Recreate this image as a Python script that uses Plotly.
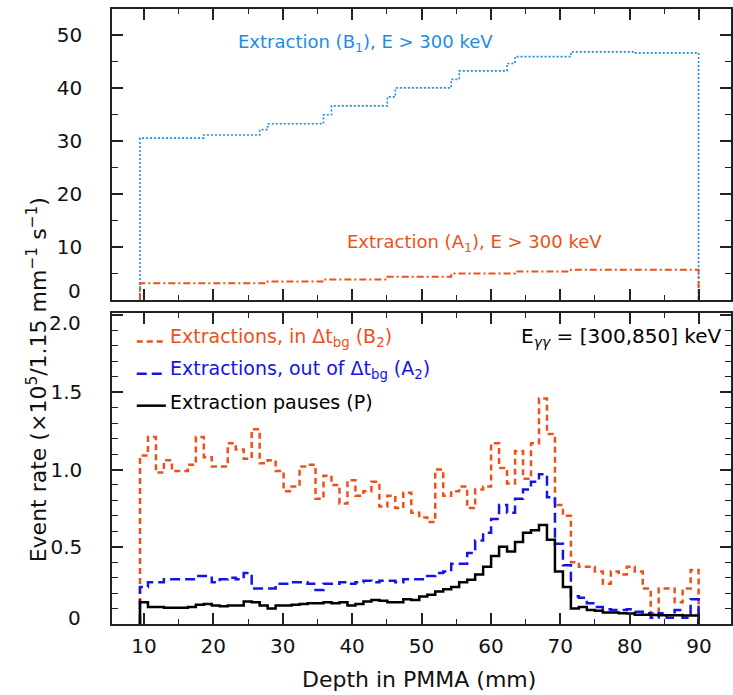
import plotly.graph_objects as go

# Histogram binning along depth (mm): 70 bins of 1.15 mm
BIN_START = 9.43
BIN_WIDTH = 1.15

# Upper panel: extraction rates, E > 300 keV
b1_extraction = ([30.6] * 8 + [31.2] * 7 + [32.2] + [33.3] * 7 + [35.0] + [36.7] * 7 + [38.4]
                 + [40.1] * 7 + [41.7] + [43.3] * 6 + [44.7] + [46.0] * 7 + [46.9] * 8 + [46.7] * 8)
a1_extraction = ([3.15] * 16 + [3.5] * 7 + [3.9] * 8 + [4.4] * 8 + [5.0] * 8 + [5.4] * 7 + [5.7] * 16)

# Lower panel: E_gg = [300,850] keV
b2_in_bg = [1.09, 1.21, 0.98, 1.06, 0.99, 0.99, 1.03, 1.21, 1.08, 1.02,
            1.02, 1.17, 1.13, 1.07, 1.26, 1.04, 1.06, 0.99, 0.86, 0.89,
            1.02, 1.03, 0.81, 0.96, 0.90, 0.78, 0.93, 0.83, 0.86, 0.92,
            0.76, 0.83, 0.75, 0.85, 0.72, 0.69, 0.66, 1.00, 0.83, 0.86,
            0.89, 0.75, 0.87, 0.89, 1.17, 1.01, 0.91, 1.12, 0.94, 1.17,
            1.46, 1.23, 0.77, 0.70, 0.40, 0.37, 0.37, 0.34, 0.26, 0.34,
            0.32, 0.37, 0.34, 0.23, 0.07, 0.23, 0.23, 0.14, 0.23, 0.35]
a2_out_bg = [0.24, 0.27, 0.27, 0.29, 0.29, 0.29, 0.29, 0.31, 0.31, 0.27,
             0.29, 0.30, 0.29, 0.33, 0.23, 0.23, 0.23, 0.26, 0.26, 0.27,
             0.27, 0.26, 0.22, 0.26, 0.26, 0.27, 0.26, 0.27, 0.28, 0.27,
             0.28, 0.28, 0.27, 0.29, 0.29, 0.29, 0.31, 0.33, 0.34, 0.39,
             0.39, 0.46, 0.54, 0.59, 0.68, 0.77, 0.72, 0.81, 0.87, 0.92,
             0.97, 0.82, 0.52, 0.38, 0.18, 0.17, 0.135, 0.11, 0.095, 0.09,
             0.09, 0.095, 0.08, 0.07, 0.04, 0.07, 0.04, 0.09, 0.04, 0.16]
p_pauses = [0.14, 0.11, 0.11, 0.105, 0.105, 0.105, 0.11, 0.125, 0.13, 0.12,
            0.115, 0.12, 0.12, 0.145, 0.14, 0.12, 0.10, 0.12, 0.12, 0.125,
            0.13, 0.135, 0.135, 0.14, 0.135, 0.14, 0.12, 0.13, 0.145, 0.155,
            0.15, 0.14, 0.14, 0.16, 0.156, 0.178, 0.19, 0.21, 0.225, 0.24,
            0.27, 0.286, 0.32, 0.37, 0.44, 0.50, 0.47, 0.53, 0.59, 0.606,
            0.64, 0.545, 0.34, 0.24, 0.10, 0.11, 0.09, 0.085, 0.075, 0.075,
            0.07, 0.068, 0.06, 0.06, 0.058, 0.057, 0.056, 0.056, 0.055, 0.055]

x_ticks = [10, 20, 30, 40, 50, 60, 70, 80, 90]
top_ticks = [0, 10, 20, 30, 40, 50]
top_tick_text = ["", "10", "20", "30", "40", "50"]          # "0" is placed separately
bottom_ticks = [0, 0.5, 1.0, 1.5, 2.0]
bottom_tick_text = ["", "0.5", "1.0", "1.5", ""]            # end labels placed separately

ORANGE = "#ee5019"
LIGHT_BLUE = "#1c8ce6"
BLUE = "#1414e6"
BLACK = "#000000"
FONT = "DejaVu Sans"
TICK_SIZE = 20
TICK_FONT = dict(family=FONT, size=TICK_SIZE, color="#111")

n_bins = len(b2_in_bg)
edges = [BIN_START + BIN_WIDTH * i for i in range(n_bins + 1)]


def histogram_outline(values):
    """Step outline that rises from zero at the first edge and drops back at the last."""
    xs = [edges[0]] + edges[:n_bins] + [edges[-1], edges[-1]]
    ys = [0] + list(values) + [values[-1], 0]
    return xs, ys


fig = go.Figure()


def add_hist(values, color, dash, width, xa, ya):
    xs, ys = histogram_outline(values)
    fig.add_trace(go.Scatter(x=xs, y=ys, mode="lines", line_shape="hv",
                             line=dict(color=color, dash=dash, width=width),
                             xaxis=xa, yaxis=ya, showlegend=False, hoverinfo="skip"))


add_hist(b1_extraction, LIGHT_BLUE, "2px,2px", 1.6, "x", "y")
add_hist(a1_extraction, ORANGE, "7px,3px,2px,3px", 2, "x", "y")
add_hist(b2_in_bg, ORANGE, "6px,4px", 2.5, "x2", "y2")
add_hist(a2_out_bg, BLUE, "10px,5px", 2.5, "x2", "y2")
add_hist(p_pauses, BLACK, "solid", 2.5, "x2", "y2")

axis_common = dict(showline=True, linecolor="#222", linewidth=1.5, mirror="ticks",
                   ticks="inside", ticklen=11, tickwidth=1.5, tickcolor="#222",
                   showgrid=False, zeroline=False, tickfont=TICK_FONT)

fig.update_layout(
    width=733, height=695,
    margin=dict(l=112, r=0, t=9, b=71),
    paper_bgcolor="white", plot_bgcolor="white",
    xaxis=dict(domain=[0, 1], anchor="y", range=[5.4, 94.6], tickvals=x_ticks,
               showticklabels=False,
               minor=dict(ticks="inside", ticklen=5, dtick=5, tickcolor="#222", tickwidth=1.2),
               **axis_common),
    yaxis=dict(domain=[0.5268, 1], anchor="x", range=[0, 55], tickvals=top_ticks,
               ticktext=top_tick_text, ticklabelstandoff=24,
               minor=dict(ticks="inside", ticklen=6, dtick=5, tickcolor="#222", tickwidth=1.2),
               **axis_common),
    xaxis2=dict(domain=[0, 1], anchor="y2", range=[5.4, 94.6], tickvals=x_ticks,
                matches="x", ticklabelstandoff=3,
                minor=dict(ticks="inside", ticklen=5, dtick=5, tickcolor="#222", tickwidth=1.2),
                **axis_common),
    yaxis2=dict(domain=[0, 0.5057], anchor="x2", range=[0, 2.013], tickvals=bottom_ticks,
                ticktext=bottom_tick_text, ticklabelstandoff=24,
                minor=dict(ticks="inside", ticklen=6, dtick=0.1, tickcolor="#222", tickwidth=1.2),
                **axis_common),
)


def text(label, x, y, xref, yref, color, size=17, xanchor="center", **kw):
    return dict(text=label, x=x, y=y, xref=xref, yref=yref, xanchor=xanchor,
                yanchor="middle", showarrow=False,
                font=dict(family=FONT, size=size, color=color), **kw)


annotations = [
    text("Extraction (B<sub>1</sub>), E > 300 keV", 0.41, 0.883, "x domain", "y domain",
         LIGHT_BLUE, size=18),
    text("Extraction (A<sub>1</sub>), E > 300 keV", 0.586, 0.196, "x domain", "y domain",
         ORANGE, size=18),
    text("Extractions, in Δt<sub>bg</sub> (B<sub>2</sub>)", 0.09, 0.92, "x2 domain", "y2 domain",
         ORANGE, size=19, xanchor="left"),
    text("Extractions, out of Δt<sub>bg</sub> (A<sub>2</sub>)", 0.09, 0.817, "x2 domain", "y2 domain",
         BLUE, size=19, xanchor="left"),
    text("Extraction pauses (P)", 0.09, 0.714, "x2 domain", "y2 domain", BLACK, size=19,
         xanchor="left"),
    text("E<sub><i>γγ</i></sub> = [300,850] keV", 0.988, 0.923, "x2 domain", "y2 domain",
         BLACK, size=20, xanchor="right"),
    text("Depth in PMMA (mm)", 0.496, -0.091, "paper", "paper", "#111", size=22),
    text("Event rate (×10<sup>5</sup>/1.15 mm<sup>−1</sup> s<sup>−1</sup>)", -0.122, 0.397,
         "paper", "paper", "#111", size=22, textangle=-90),
    # end-of-range tick labels, nudged inside their panels
    text("0", 0, 0, "x domain", "y", "#111", size=TICK_SIZE, xanchor="right", xshift=-29, yshift=9),
    text("0", 0, 0, "x2 domain", "y2", "#111", size=TICK_SIZE, xanchor="right", xshift=-29, yshift=6),
    text("2.0", 0, 2.0, "x2 domain", "y2", "#111", size=TICK_SIZE, xanchor="right", xshift=-29,
         yshift=-8),
]
fig.update_layout(annotations=annotations)

# Legend line samples beside the lower-panel labels
for yfrac, color, dash in [(0.92, ORANGE, "6px,4px"), (0.817, BLUE, "10px,5px"), (0.714, BLACK, "solid")]:
    fig.add_shape(type="line", xref="x2 domain", yref="y2 domain",
                  x0=0.04, x1=0.087, y0=yfrac - 0.012, y1=yfrac - 0.012,
                  line=dict(color=color, dash=dash, width=2.5))

fig.write_html("out.html")
